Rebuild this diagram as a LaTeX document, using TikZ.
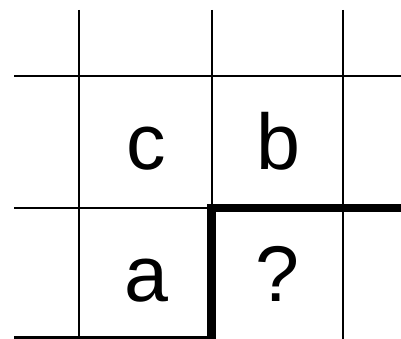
\documentclass[tikz,border=0pt]{standalone}
\usepackage{fontspec}
\setmainfont{Liberation Sans}
\begin{document}
\begin{tikzpicture}[x=1pt,y=-1pt,
  gridline/.style={line width=2.3pt,black},
  boldline/.style={line width=8.5pt,black,line join=miter},
  lettertext/.style={anchor=base,inner sep=0pt,font=\fontsize{79}{79}\selectfont}]
\useasboundingbox (0,0) rectangle (401,339);
% vertical lines
\draw[gridline] (79,10) -- (79,339);
\draw[gridline] (212,10) -- (212,339);
\draw[gridline] (343,10) -- (343,339);
% horizontal lines
\draw[gridline] (14,76) -- (401,76);
\draw[gridline] (14,208.3) -- (212,208.3);
\draw[line width=3pt] (14,337.6) -- (212,337.6);
% thick boundary
\draw[boldline] (401,208) -- (211.7,208) -- (211.7,339);
% letters
\node[lettertext] (c) at (146.5,170) {c};
\node[lettertext] (b) at (278,170) {b};
\node[lettertext] (a) at (146.5,301) {a};
\node[lettertext] (q) at (277.5,301) {?};
\end{tikzpicture}
\end{document}
